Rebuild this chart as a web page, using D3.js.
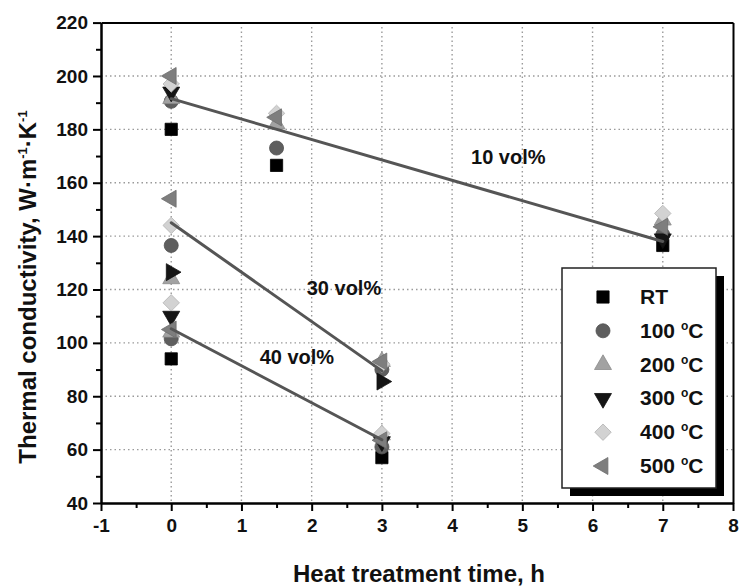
<!DOCTYPE html>
<html>
<head>
<meta charset="utf-8">
<title>Thermal conductivity vs heat treatment time</title>
<script src="https://cdn.jsdelivr.net/npm/d3@7"></script>
<style>
body{ margin:0; background:#fff; }
svg text{ font-family:"Liberation Sans", Arial, sans-serif; font-weight:bold; fill:#111; }
</style>
</head>
<body>
<svg id="chart" width="740" height="586"></svg>
<script>
// series (legend order): RT, 100, 200, 300, 400, 500 °C
var seriesNames = ["RT", "100 °C", "200 °C", "300 °C", "400 °C", "500 °C"];

// 10 vol% at t = 0, 1.5, 7 h
var vol10X = [0, 1.5, 7];
var vol10_t0  = [180, 190.5, 191.5, 194, 197, 200];
var vol10_t15 = [166.5, 173, 182, null, 186, 184.5];
var vol10_t7  = [136.5, 140.5, 146, 139, 148.5, 143.5];

// 30 vol% at t = 0, 3 h (no RT point visible)
var vol30X = [0, 3];
var vol30_t0 = [null, 136.5, 124, 126.5, 144, 154];
var vol30_t3 = [null, 90, 93, 85.5, 92, 93];

// 40 vol% at t = 0, 3 h
var vol40X = [0, 3];
var vol40_t0 = [94, 101.5, 104, 110, 115, 105];
var vol40_t3 = [57, 61, 65.5, 63, 66, 63.5];

// linear fit lines, value at first and last time
var fit10 = [191.5, 138];
var fit30 = [145, 89.5];
var fit40 = [105.3, 63.7];

var groupLabels = ["10 vol%", "30 vol%", "40 vol%"];
var groupLabelPos = [[4.8, 167], [2.46, 118], [1.79, 92]];

var xTicks = [-1, 0, 1, 2, 3, 4, 5, 6, 7, 8];
var yTicks = [40, 60, 80, 100, 120, 140, 160, 180, 200, 220];

var colors = ["#000", "#5e5e5e", "#a2a2a2", "#151515", "#d2d2d2", "#7e7e7e"];
var symbolTypes = [d3.symbolSquare, d3.symbolCircle, d3.symbolTriangle, d3.symbolTriangle, d3.symbolSquare, d3.symbolTriangle];
var symbolRot = [0, 0, 0, 180, 45, -90];
var symbolSize = [150, 155, 125, 125, 135, 125];

(function(){
var svg = d3.select("#chart");
var pLeft = 101, pRight = 733, pTop = 22.6, pBottom = 503;

var x = d3.scaleLinear().domain([-1, 8]).range([pLeft, pRight]);
var y = d3.scaleLinear().domain([40, 220]).range([pBottom, pTop]);

// dotted grid
var grid = svg.append("g").attr("stroke", "#9a9a9a").attr("stroke-width", 1.4).attr("stroke-dasharray", "1.5,3");
grid.selectAll("line.h").data(yTicks.slice(1, -1)).enter().append("line")
    .attr("x1", pLeft).attr("x2", pRight).attr("y1", function(d){ return y(d); }).attr("y2", function(d){ return y(d); });
grid.selectAll("line.v").data(xTicks.slice(1, -1)).enter().append("line")
    .attr("y1", pTop).attr("y2", pBottom).attr("x1", function(d){ return x(d); }).attr("x2", function(d){ return x(d); });

// legend box (drawn under the points)
var lgX = 562, lgY = 268, lgW = 154, lgH = 220;
svg.append("rect").attr("x", lgX + 8).attr("y", lgY + 8).attr("width", lgW).attr("height", lgH).attr("fill", "#000");
svg.append("rect").attr("x", lgX).attr("y", lgY).attr("width", lgW).attr("height", lgH)
    .attr("fill", "#fff").attr("stroke", "#222").attr("stroke-width", 1.5);

function symbolPath(i){
    return d3.symbol().type(symbolTypes[i]).size(symbolSize[i])();
}

function drawGroup(xs, cols, gi){
    var g = svg.append("g");
    for (var s = 0; s < seriesNames.length; s++) {
        for (var k = 0; k < xs.length; k++) {
            var v = cols[k][s];
            if (v === null) continue;
            var rot = symbolRot[s];
            // the 300 °C points of the 30 vol% set are drawn as right-pointing triangles
            if (gi === 1 && s === 3) rot = 90;
            g.append("path")
                .attr("d", symbolPath(s))
                .attr("transform", "translate(" + x(xs[k]) + "," + y(v) + ") rotate(" + rot + ")")
                .attr("fill", colors[s])
                .attr("stroke", d3.color(colors[s]).darker(0.4))
                .attr("stroke-width", 0.8);
        }
    }
}

drawGroup(vol10X, [vol10_t0, vol10_t15, vol10_t7], 0);
drawGroup(vol30X, [vol30_t0, vol30_t3], 1);
drawGroup(vol40X, [vol40_t0, vol40_t3], 2);

// fit lines
var fits = [[[0, 7], fit10], [[0, 3], fit30], [[0, 3], fit40]];
fits.forEach(function(f){
    svg.append("line")
        .attr("x1", x(f[0][0])).attr("y1", y(f[1][0]))
        .attr("x2", x(f[0][1])).attr("y2", y(f[1][1]))
        .attr("stroke", "#555").attr("stroke-width", 3).attr("stroke-linecap", "round");
});

groupLabels.forEach(function(t, i){
    svg.append("text").attr("x", x(groupLabelPos[i][0])).attr("y", y(groupLabelPos[i][1]))
        .attr("text-anchor", "middle").attr("font-size", 20).text(t);
});

// axes
function styleAxis(g){
    g.selectAll("path, line").attr("stroke", "#000").attr("stroke-width", 2);
    g.selectAll("text").attr("font-size", 19).attr("fill", "#111")
        .style("font-family", "'Liberation Sans', Arial, sans-serif").style("font-weight", "bold");
}

var xAxis = svg.append("g").attr("transform", "translate(0," + pBottom + ")")
    .call(d3.axisBottom(x).tickValues(xTicks).tickFormat(function(d){ return String(d); })
        .tickSize(8).tickSizeOuter(0).tickPadding(8));
styleAxis(xAxis);
var xMinor = svg.append("g").attr("transform", "translate(0," + pBottom + ")")
    .call(d3.axisBottom(x).tickValues(d3.range(-0.5, 8, 1)).tickFormat("").tickSize(5).tickSizeOuter(0));
styleAxis(xMinor);

var yAxis = svg.append("g").attr("transform", "translate(" + pLeft + ",0)")
    .call(d3.axisLeft(y).tickValues(yTicks).tickFormat(function(d){ return String(d); })
        .tickSize(8).tickSizeOuter(0).tickPadding(5));
styleAxis(yAxis);
var yMinor = svg.append("g").attr("transform", "translate(" + pLeft + ",0)")
    .call(d3.axisLeft(y).tickValues(d3.range(50, 220, 20)).tickFormat("").tickSize(5).tickSizeOuter(0));
styleAxis(yMinor);

var topAxis = svg.append("g").attr("transform", "translate(0," + pTop + ")")
    .call(d3.axisTop(x).tickValues([]).tickSizeOuter(0));
styleAxis(topAxis);
var rightAxis = svg.append("g").attr("transform", "translate(" + pRight + ",0)")
    .call(d3.axisRight(y).tickValues([]).tickSizeOuter(0));
styleAxis(rightAxis);

// axis titles
svg.append("text").attr("x", 419).attr("y", 582).attr("text-anchor", "middle")
    .attr("font-size", 24).text("Heat treatment time, h");

var yt = svg.append("text").attr("transform", "translate(36,287) rotate(-90)")
    .attr("text-anchor", "middle").attr("font-size", 24);
yt.append("tspan").text("Thermal conductivity, W\u00b7m");
yt.append("tspan").attr("dy", -9).attr("font-size", 13).text("-1");
yt.append("tspan").attr("dy", 9).text("\u00b7K");
yt.append("tspan").attr("dy", -9).attr("font-size", 13).text("-1");

// legend entries
seriesNames.forEach(function(name, i){
    var ry = 297 + i * 33.8;
    svg.append("path").attr("d", symbolPath(i))
        .attr("transform", "translate(603," + ry + ") rotate(" + symbolRot[i] + ")")
        .attr("fill", colors[i]).attr("stroke", d3.color(colors[i]).darker(0.4)).attr("stroke-width", 0.8);
    var t = svg.append("text").attr("x", 640).attr("y", ry + 7).attr("font-size", 21);
    if (i === 0) {
        t.text(name);
    } else {
        var parts = name.split(" ");
        t.append("tspan").text(parts[0] + " ");
        t.append("tspan").attr("dy", -8).attr("font-size", 12).text("o");
        t.append("tspan").attr("dy", 8).text("C");
    }
});
})();
</script>
</body>
</html>
